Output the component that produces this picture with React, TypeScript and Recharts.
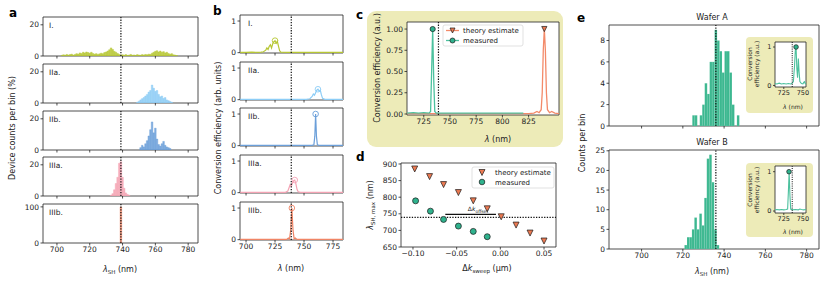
import React from 'react';
import { ComposedChart, Bar, Line, Scatter, XAxis, YAxis, ReferenceLine, ReferenceArea } from 'recharts';

const FONT = '"DejaVu Sans", sans-serif';
const INK = '#222';
const YELLOW = '#edebb8';
const DOT = '#111';

// ---------------- data ----------------
// panel a: histograms, [bin centre (nm), device counts per bin (%)]
const histI = [[703,0.4],[704,0.8],[705,0.5],[706,1.0],[707,0.6],[708,0.9],[709,1.2],[710,0.6],[711,1.0],[712,1.5],[713,1.2],[714,2.0],[715,1.6],[716,2.4],[717,2.0],[718,2.6],[719,2.2],[720,1.8],[721,2.4],[722,1.6],[723,1.2],[724,1.5],[725,1.0],[726,1.4],[727,1.8],[728,1.5],[729,2.2],[730,2.6],[731,3.2],[732,4.0],[733,5.2],[734,4.2],[735,3.0],[736,2.4],[737,1.6],[738,1.0],[739,0.6],[740,0.8],[741,0.5],[742,0.9],[743,0.4],[744,0.6],[745,1.0],[746,0.5],[747,0.7],[748,0.4],[749,0.9],[750,0.6],[751,0.5],[752,0.9],[753,0.7],[754,1.0],[755,0.8],[756,1.2],[757,1.0],[758,1.8],[759,2.4],[760,3.0],[761,3.4],[762,2.6],[763,3.2],[764,2.4],[765,2.8],[766,2.0],[767,2.4],[768,1.6],[769,1.2],[770,1.5],[771,0.8],[772,0.6],[773,0.3]];
const histIIa = [[749,0.5],[750,1.2],[751,2.0],[752,2.8],[753,3.5],[754,4.5],[755,5.5],[756,7.0],[757,8.0],[758,11.5],[759,9.5],[760,7.5],[761,8.0],[762,5.5],[763,4.0],[764,4.5],[765,3.0],[766,3.5],[767,2.0],[768,1.5],[769,1.0],[770,0.5]];
const histIIb = [[751,1.5],[752,3.0],[753,2.0],[754,4.0],[755,6.0],[756,9.0],[757,13.0],[758,18.0],[759,11.0],[760,14.0],[761,7.0],[762,3.5],[763,2.5],[764,4.0],[765,5.5],[766,3.0],[767,2.0],[768,1.5],[769,1.0]];
const histIIIa = [[733,0.5],[734,1.5],[735,4.0],[736,8.0],[737,12.0],[738,21.0],[739,22.0],[740,12.0],[741,5.0],[742,2.0],[743,1.0],[744,0.5]];
const histIIIb = [[738,0],[739,100],[740,0]];

// panel b: conversion-efficiency spectra [wavelength (nm), arb. units] and peak markers
const specI = [[695,0.01],[700,0.01],[705,0.015],[710,0.01],[713,0.02],[715,0.03],[717,0.08],[718,0.15],[719,0.1],[720,0.2],[721,0.25],[722,0.15],[723,0.28],[724,0.35],[725,0.38],[726,0.3],[727,0.36],[728,0.2],[729,0.06],[730,0.02],[735,0.01],[745,0.01],[760,0.01],[784,0.01]];
const specIIa = [[695,0.01],[740,0.01],[752,0.01],[755,0.03],[757,0.1],[758,0.18],[759,0.14],[760,0.22],[761,0.3],[762,0.33],[763,0.27],[764,0.3],[765,0.15],[766,0.04],[768,0.01],[784,0.01]];
const specIIb = [[695,0.01],[757,0.01],[758.5,0.03],[759.3,0.3],[760,1.0],[760.7,0.3],[761.5,0.03],[763,0.01],[784,0.01]];
const specIIIa = [[695,0.01],[734,0.01],[736,0.05],[737,0.15],[738,0.25],[739,0.2],[740,0.3],[741,0.38],[742,0.4],[743,0.28],[744,0.1],[745,0.03],[747,0.01],[784,0.01]];
const specIIIb = [[695,0.01],[735,0.01],[736.5,0.05],[737.5,0.02],[738.5,0.3],[739.5,1.0],[740.5,0.3],[741.5,0.02],[742.5,0.05],[744,0.01],[784,0.01]];
const peaksB = [[725,0.38],[762,0.33],[760,1.0],[742,0.4],[739.5,1.0]];

// panel c
const cTheory = [[709,0.005],[760,0.005],[800,0.005],[825,0.005],[830,0.01],[833,0.03],[835,0.015],[837,0.05],[838,0.25],[839,0.75],[840,1.0],[841,0.75],[842,0.25],[843,0.05],[845,0.015],[847,0.03],[850,0.01],[854,0.005]];
const cMeasured = [[709,0.01],[715,0.015],[720,0.01],[725,0.015],[730,0.01],[731.5,0.03],[732.5,0.5],[733.5,1.0],[734.5,0.4],[735.5,0.03],[737,0.01],[750,0.01],[780,0.01],[800,0.01],[820,0.01]];
const cTheoryPeak = [[840,1.0]];
const cMeasuredPeak = [[733.5,1.0]];

// panel d
const dTheoryX = [-0.098, -0.081, -0.065, -0.048, -0.031, -0.015, 0.001, 0.018, 0.034, 0.050];
const dTheoryY = [885, 862, 838, 814, 789, 765, 741, 716, 692, 668];
const dMeasX = [-0.097, -0.080, -0.065, -0.048, -0.031, -0.015];
const dMeasY = [789, 758, 733, 713, 697, 681];
const dOffset = { x1: -0.063, x2: -0.005, y: 748 };

// panel e
const eACentres = [725.2,726.4,727.6,728.8,730.0,731.2,732.4,733.6,734.8,736.0,737.2,738.4,739.6,740.8,742.0,743.2,744.4,745.6,746.8];
const eACounts = [1,1,0,1,2,4,3,6,6,9,8,7,5,7,7,5,2,0,1];
const eBCentres = [721.4,722.6,723.8,725.0,726.2,727.4,728.6,729.8,731.0,732.2,733.4,734.6,735.8,737.0];
const eBCounts = [1,3,3,5,8,5,9,6,13,23,24,17,5,1];
const insetA = [[713,0.05],[716,0.04],[719,0.06],[722,0.04],[725,0.05],[728,0.04],[731,0.05],[734,0.04],[736,0.06],[737.5,0.1],[739,0.5],[740,0.9],[741,1.0],[742,0.45],[743,0.2],[744,0.7],[745,0.35],[746,0.1],[748,0.05],[750,0.04],[751,0.08],[752,0.1],[753,0.05],[754,0.04]];
const insetB = [[713,0.03],[716,0.04],[719,0.03],[722,0.04],[725,0.03],[728,0.04],[730,0.05],[731,0.5],[732,1.0],[733,0.4],[734,0.05],[736,0.03],[740,0.04],[744,0.03],[746,0.05],[748,0.04],[751,0.03],[754,0.04]];
const insetAPeak = [[741,1.0]];
const insetBPeak = [[731.8,1.0]];

// targets (dotted lines)
const TARGET_ABCD = 739;
const TARGET_E = 736;

// ticks
const aXTicks = [700, 720, 740, 760, 780];
const bXTicks = [700, 725, 750, 775];
const cXTicks = [725, 750, 775, 800, 825];
const cYTicks = [0, 0.25, 0.5, 0.75, 1];
const dXTicks = [-0.1, -0.05, 0, 0.05];
const dYTicks = [650, 700, 750, 800, 850, 900];
const eXTicks = [700, 720, 740, 760, 780];
const eAYTicks = [0, 2, 4, 6, 8];
const eBYTicks = [0, 5, 10, 15, 20, 25];
const insetXTicks = [725, 750];

// ---------------- helpers ----------------
type Pt = { x: number; y: number };
const pts = (arr: number[][]): Pt[] => arr.map(([x, y]) => ({ x, y }));
const zipPts = (xs: number[], ys: number[]): Pt[] => xs.map((x, i) => ({ x, y: ys[i] }));

const C_I = '#b7c733';
const C_IIa = '#8dcdf6';
const C_IIb = '#6b9fd9';
const C_IIIa = '#f4a3b4';
const C_IIIb = '#f08566';
const THEORY = '#f38a69';
const THEORY_FILL = '#ec7a52';
const TEAL = '#4cc19e';
const TEAL_FILL = '#2fb28d';
const HIST_TEAL = '#3cb890';

const hollow = (color: string, r: number) => (props: any) => {
  const { cx, cy } = props;
  if (cx == null || cy == null) return <g />;
  return <circle cx={cx} cy={cy} r={r} fill="none" stroke={color} strokeWidth={0.9} />;
};
const filledCircle = (color: string, r: number) => (props: any) => {
  const { cx, cy } = props;
  if (cx == null || cy == null) return <g />;
  return <circle cx={cx} cy={cy} r={r} fill={color} stroke="#1a1a1a" strokeWidth={0.7} />;
};
const triDown = (color: string, s: number) => (props: any) => {
  const { cx, cy } = props;
  if (cx == null || cy == null) return <g />;
  return <polygon points={`${cx - s},${cy - s} ${cx + s},${cy - s} ${cx},${cy + s}`} fill={color} stroke="#1a1a1a" strokeWidth={0.7} />;
};

interface PlotProps {
  left: number; top: number; w: number; h: number;
  xDomain: [number, number]; yDomain: [number, number];
  xTicks: number[]; yTicks: number[];
  xLabels?: boolean;
  xFmt?: (v: number) => string; yFmt?: (v: number) => string;
  fs?: number; padL?: number; padB?: number; padR?: number; padT?: number;
  data?: Pt[];
  bg?: string;
  tickLen?: number;
  children?: React.ReactNode;
}

function Plot(p: PlotProps) {
  const padL = p.padL ?? 26, padB = p.padB ?? 16, padT = p.padT ?? 3, padR = p.padR ?? 3;
  const W = p.w + padL + padR, H = p.h + padT + padB;
  const fs = p.fs ?? 7.5;
  const tl = p.tickLen ?? 2.5;
  const tick = { fontSize: fs, fill: INK, fontFamily: FONT };
  const tickLine = { stroke: INK, strokeWidth: 0.8 };
  return (
    <>
      {p.bg ? <div style={{ position: 'absolute', left: p.left, top: p.top, width: p.w, height: p.h, background: p.bg }} /> : null}
      <div style={{ position: 'absolute', left: p.left - padL, top: p.top - padT, width: W, height: H }}>
        <ComposedChart width={W} height={H} data={p.data} margin={{ top: padT, right: padR, bottom: 0, left: 0 }} barCategoryGap={0} barGap={0}>
          <XAxis dataKey="x" type="number" domain={p.xDomain} ticks={p.xTicks} interval={0} allowDataOverflow height={padB}
            tickSize={tl} tickMargin={1.5} axisLine={false} tickLine={tickLine} tick={tick}
            tickFormatter={p.xLabels === false ? () => '' : p.xFmt} />
          <YAxis dataKey="y" type="number" domain={p.yDomain} ticks={p.yTicks} interval={0} allowDataOverflow width={padL}
            tickSize={tl} tickMargin={1.5} axisLine={false} tickLine={tickLine} tick={tick} tickFormatter={p.yFmt} />
          {p.children}
          <ReferenceArea x1={p.xDomain[0]} x2={p.xDomain[1]} y1={p.yDomain[0]} y2={p.yDomain[1]} fill="none" fillOpacity={0} stroke={INK} strokeWidth={0.8} ifOverflow="visible" />
        </ComposedChart>
      </div>
    </>
  );
}

const aPanels = [
  { label: 'I.', data: histI, color: C_I, yTicks: [0, 20], yDom: [0, 25] as [number, number] },
  { label: 'IIa.', data: histIIa, color: C_IIa, yTicks: [0, 20], yDom: [0, 25] as [number, number] },
  { label: 'IIb.', data: histIIb, color: C_IIb, yTicks: [0, 20], yDom: [0, 25] as [number, number] },
  { label: 'IIIa.', data: histIIIa, color: C_IIIa, yTicks: [0, 20], yDom: [0, 25] as [number, number] },
  { label: 'IIIb.', data: histIIIb, color: C_IIIb, yTicks: [0, 100], yDom: [0, 108] as [number, number] },
];
const aTops = [17, 64, 111, 157, 204];
const bPanels = [
  { label: 'I.', data: specI, color: C_I },
  { label: 'IIa.', data: specIIa, color: C_IIa },
  { label: 'IIb.', data: specIIb, color: C_IIb },
  { label: 'IIIa.', data: specIIIa, color: C_IIIa },
  { label: 'IIIb.', data: specIIIb, color: C_IIIb },
];
const bTops = [15, 62, 108, 155, 202];

const dFmt = (v: number) => (v < -1e-9 ? '\u2212' : '') + Math.abs(v).toFixed(2);

export default function App() {
  const aDom: [number, number] = [691.5, 786];
  const bDom: [number, number] = [694.8, 783.6];
  const eDom: [number, number] = [684.2, 786];
  // bar widths: just under one bin width (Recharts shrinks bars that are >= the band)
  const aBar = ((155 * 1) / (aDom[1] - aDom[0])) * 0.995;
  const eBar = ((210 * 1.2) / (eDom[1] - eDom[0])) * 0.995;
  const dash = '1.3 1.4';
  return (
    <div style={{ position: 'absolute', left: 0, top: 0, width: 830, height: 282, background: '#fff', overflow: 'hidden', fontFamily: FONT }}>
      {/* panel a */}
      {aPanels.map((pp, i) => (
        <Plot key={'a' + i} left={43} top={aTops[i]} w={155} h={39} xDomain={aDom} yDomain={pp.yDom}
          xTicks={aXTicks} yTicks={pp.yTicks} xLabels={i === 4} padL={22} padB={i === 4 ? 14 : 4} data={pts(pp.data)}>
          <Bar dataKey="y" fill={pp.color} stroke={pp.color} strokeWidth={0.4} fillOpacity={0.85} barSize={aBar} isAnimationActive={false} />
          <ReferenceLine x={TARGET_ABCD} stroke={DOT} strokeWidth={1.2} strokeDasharray={dash} />
        </Plot>
      ))}
      {/* panel b */}
      {bPanels.map((pp, i) => (
        <Plot key={'b' + i} left={240} top={bTops[i]} w={103} h={38} xDomain={bDom} yDomain={[-0.01, 1.19]}
          xTicks={bXTicks} yTicks={[0, 1]} xLabels={i === 4} padL={14} padB={i === 4 ? 14 : 4} data={pts(pp.data)}>
          <Line dataKey="y" stroke={pp.color} strokeWidth={1.2} dot={false} isAnimationActive={false} />
          <Scatter data={pts([peaksB[i]])} dataKey="y" shape={hollow(pp.color, 2.8)} isAnimationActive={false} />
          <ReferenceLine x={TARGET_ABCD} stroke={DOT} strokeWidth={1.2} strokeDasharray={dash} />
        </Plot>
      ))}
      {/* panel c */}
      <div style={{ position: 'absolute', left: 367, top: 11, width: 196, height: 136, background: YELLOW, borderRadius: 9 }} />
      <Plot left={407} top={22} w={152} h={93} xDomain={[709, 854]} yDomain={[-0.012, 1.083]} xTicks={cXTicks} yTicks={cYTicks}
        yFmt={(v) => v.toFixed(2)} padL={26} padB={13} bg="#fff">
        <Line data={pts(cTheory)} dataKey="y" stroke={THEORY} strokeWidth={1.3} dot={false} isAnimationActive={false} />
        <Line data={pts(cMeasured)} dataKey="y" stroke={TEAL} strokeWidth={1.3} dot={false} isAnimationActive={false} />
        <ReferenceLine x={TARGET_ABCD} stroke={DOT} strokeWidth={1.2} strokeDasharray={dash} />
        <Scatter data={pts(cTheoryPeak)} dataKey="y" shape={triDown(THEORY_FILL, 2.6)} isAnimationActive={false} />
        <Scatter data={pts(cMeasuredPeak)} dataKey="y" shape={filledCircle(TEAL_FILL, 2.6)} isAnimationActive={false} />
      </Plot>
      {/* panel d */}
      <Plot left={401} top={163} w={155} h={84} xDomain={[-0.1137, 0.0637]} yDomain={[650, 903]} xTicks={dXTicks} yTicks={dYTicks}
        xFmt={dFmt} padL={22} padB={13}>
        <ReferenceLine y={TARGET_ABCD} stroke={DOT} strokeWidth={1.2} strokeDasharray={dash} />
        <ReferenceLine segment={[{ x: dOffset.x1, y: dOffset.y }, { x: dOffset.x2, y: dOffset.y }]} stroke="#111" strokeWidth={1.3} />
        <Scatter data={zipPts(dTheoryX, dTheoryY)} dataKey="y" shape={triDown(THEORY_FILL, 3)} isAnimationActive={false} />
        <Scatter data={zipPts(dMeasX, dMeasY)} dataKey="y" shape={filledCircle(TEAL_FILL, 3)} isAnimationActive={false} />
      </Plot>
      {/* panel e */}
      <Plot left={609} top={25} w={210} h={101} xDomain={eDom} yDomain={[0, 9.45]} xTicks={eXTicks} yTicks={eAYTicks}
        xLabels={false} padL={12} padB={5} data={zipPts(eACentres, eACounts)}>
        <Bar dataKey="y" fill={HIST_TEAL} stroke="#ffffff" strokeOpacity={0.25} strokeWidth={0.3} barSize={eBar} isAnimationActive={false} />
        <ReferenceLine x={TARGET_E} stroke={DOT} strokeWidth={1.2} strokeDasharray={dash} />
      </Plot>
      <Plot left={609} top={150} w={210} h={99} xDomain={eDom} yDomain={[0, 25.2]} xTicks={eXTicks} yTicks={eBYTicks}
        padL={16} padB={16} data={zipPts(eBCentres, eBCounts)}>
        <Bar dataKey="y" fill={HIST_TEAL} stroke="#ffffff" strokeOpacity={0.25} strokeWidth={0.3} barSize={eBar} isAnimationActive={false} />
        <ReferenceLine x={TARGET_E} stroke={DOT} strokeWidth={1.2} strokeDasharray={dash} />
      </Plot>
      {/* insets */}
      <div style={{ position: 'absolute', left: 746, top: 37, width: 67, height: 76, background: YELLOW, borderRadius: 4 }} />
      <Plot left={775} top={42} w={31} h={45} xDomain={[713.5, 754]} yDomain={[-0.04, 1.13]} xTicks={insetXTicks} yTicks={[0, 1]}
        fs={6.5} padL={9} padB={10} padR={6} tickLen={2} bg="#fff">
        <Line data={pts(insetA)} dataKey="y" stroke={TEAL} strokeWidth={1.1} dot={false} isAnimationActive={false} />
        <ReferenceLine x={TARGET_E} stroke={DOT} strokeWidth={1} strokeDasharray="1 1.2" />
        <Scatter data={pts(insetAPeak)} dataKey="y" shape={filledCircle(TEAL_FILL, 2.3)} isAnimationActive={false} />
      </Plot>
      <div style={{ position: 'absolute', left: 746, top: 163, width: 67, height: 74, background: YELLOW, borderRadius: 4 }} />
      <Plot left={775} top={166} w={31} h={47} xDomain={[713.5, 754]} yDomain={[-0.05, 1.145]} xTicks={insetXTicks} yTicks={[0, 1]}
        fs={6.5} padL={9} padB={10} padR={6} tickLen={2} bg="#fff">
        <Line data={pts(insetB)} dataKey="y" stroke={TEAL} strokeWidth={1.1} dot={false} isAnimationActive={false} />
        <ReferenceLine x={TARGET_E} stroke={DOT} strokeWidth={1} strokeDasharray="1 1.2" />
        <Scatter data={pts(insetBPeak)} dataKey="y" shape={filledCircle(TEAL_FILL, 2.3)} isAnimationActive={false} />
      </Plot>

      {/* text overlay */}
      <svg width={830} height={282} style={{ position: 'absolute', left: 0, top: 0, pointerEvents: 'none' }} fontFamily={FONT} fill={INK}>
        <g fontWeight="bold" fontSize={12} fill="#000">
          <text x={9} y={17}>a</text>
          <text x={213} y={15}>b</text>
          <text x={356} y={19}>c</text>
          <text x={356} y={161}>d</text>
          <text x={577} y={22}>e</text>
        </g>
        <g fontSize={7.5}>
          {aPanels.map((pp, i) => <text key={'al' + i} x={49} y={aTops[i] + 11}>{pp.label}</text>)}
          {bPanels.map((pp, i) => <text key={'bl' + i} x={248} y={bTops[i] + 11}>{pp.label}</text>)}
        </g>
        <g fontSize={8}>
          <text transform="translate(15,128) rotate(-90)" textAnchor="middle">Device counts per bin (%)</text>
          <text x={120} y={272} textAnchor="middle"><tspan fontStyle="italic">λ</tspan><tspan fontSize={5.5} dy={1.8}>SH</tspan><tspan dy={-1.8}> (nm)</tspan></text>
          <text transform="translate(221,128) rotate(-90)" textAnchor="middle">Conversion efficiency (arb. units)</text>
          <text x={291} y={271} textAnchor="middle"><tspan fontStyle="italic">λ</tspan> (nm)</text>
          <text transform="translate(380,68) rotate(-90)" textAnchor="middle">Conversion efficiency (a.u.)</text>
          <text x={498} y={142} textAnchor="middle"><tspan fontStyle="italic">λ</tspan> (nm)</text>
          <text transform="translate(373,205) rotate(-90)" textAnchor="middle"><tspan fontStyle="italic">λ</tspan><tspan fontSize={5.5} dy={1.8}>SH, max</tspan><tspan dy={-1.8}> (nm)</tspan></text>
          <text x={487} y={271} textAnchor="middle">Δ<tspan fontStyle="italic">k</tspan><tspan fontSize={5.5} dy={1.8}>sweep</tspan><tspan dy={-1.8}> (μm)</tspan></text>
          <text transform="translate(585,143) rotate(-90)" textAnchor="middle">Counts per bin</text>
          <text x={712} y={274} textAnchor="middle"><tspan fontStyle="italic">λ</tspan><tspan fontSize={5.5} dy={1.8}>SH</tspan><tspan dy={-1.8}> (nm)</tspan></text>
          <text x={712} y={20} textAnchor="middle">Wafer A</text>
          <text x={712} y={145} textAnchor="middle">Wafer B</text>
        </g>
        <text x={478} y={211} textAnchor="middle" fontSize={6}>Δ<tspan fontStyle="italic">k</tspan><tspan fontSize={4.5} dy={1.5}>offset</tspan></text>
        {/* inset labels */}
        <g fontSize={6}>
          <text transform="translate(752,64) rotate(-90)" textAnchor="middle">Conversion</text>
          <text transform="translate(759,64) rotate(-90)" textAnchor="middle">efficiency (a.u.)</text>
          <text x={793} y={109} textAnchor="middle"><tspan fontStyle="italic">λ</tspan> (nm)</text>
          <text transform="translate(752,190) rotate(-90)" textAnchor="middle">Conversion</text>
          <text transform="translate(759,190) rotate(-90)" textAnchor="middle">efficiency (a.u.)</text>
          <text x={793} y={234} textAnchor="middle"><tspan fontStyle="italic">λ</tspan> (nm)</text>
        </g>
        {/* legend c */}
        <g>
          <rect x={443} y={25} width={80} height={21} rx={2} fill="#fff" stroke="#d4d4d4" strokeWidth={0.7} />
          <line x1={446} x2={459} y1={30.5} y2={30.5} stroke={THEORY} strokeWidth={1.3} />
          <polygon points="450,28 455,28 452.5,33" fill={THEORY_FILL} stroke="#1a1a1a" strokeWidth={0.7} />
          <text x={463} y={33} fontSize={7}>theory estimate</text>
          <line x1={446} x2={459} y1={40.5} y2={40.5} stroke={TEAL} strokeWidth={1.3} />
          <circle cx={452.5} cy={40.5} r={2.5} fill={TEAL_FILL} stroke="#1a1a1a" strokeWidth={0.7} />
          <text x={463} y={43} fontSize={7}>measured</text>
        </g>
        {/* legend d */}
        <g>
          <rect x={472} y={167} width={82} height={21} rx={2} fill="#fff" stroke="#d4d4d4" strokeWidth={0.7} />
          <polygon points="479,169.5 485,169.5 482,175.5" fill={THEORY_FILL} stroke="#1a1a1a" strokeWidth={0.7} />
          <text x={495} y={175} fontSize={7}>theory estimate</text>
          <circle cx={482} cy={182} r={2.8} fill={TEAL_FILL} stroke="#1a1a1a" strokeWidth={0.7} />
          <text x={495} y={184.5} fontSize={7}>measured</text>
        </g>
      </svg>
    </div>
  );
}
